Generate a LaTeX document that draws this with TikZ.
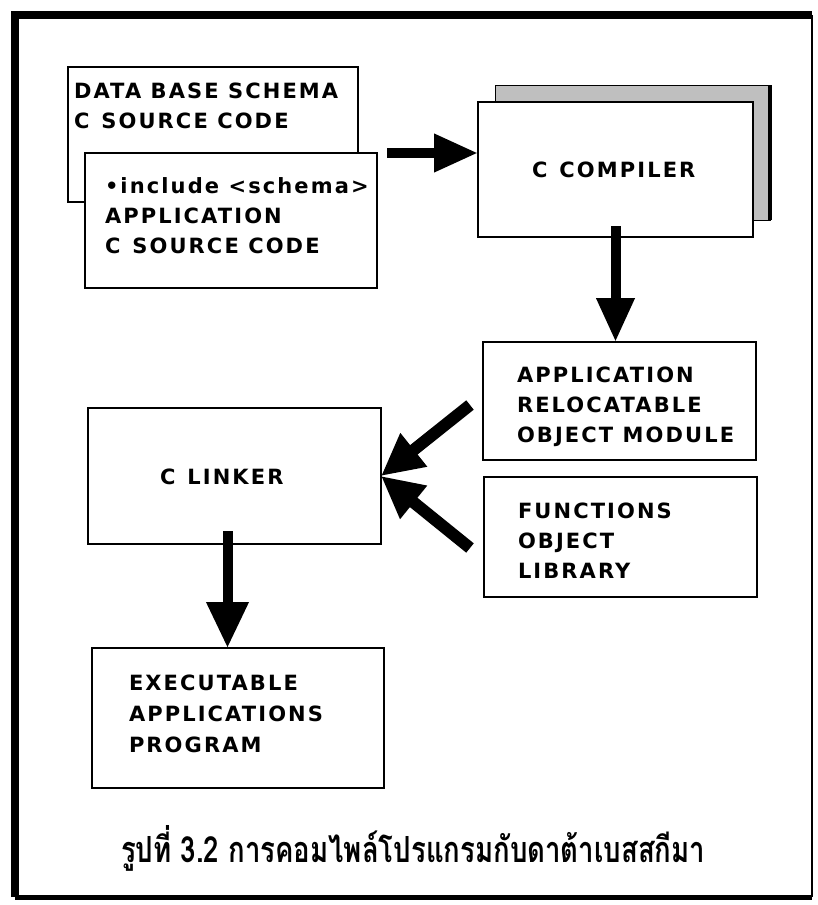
\documentclass[tikz,border=0pt]{standalone}
\usepackage{fontspec}
\usepackage{graphicx}
\setmainfont{DejaVu Sans}
\newfontfamily\boxfont[LetterSpace=10]{DejaVu Sans Bold}
\newfontfamily\thaifont[Script=Thai]{Loma}
\usetikzlibrary{arrows.meta}
\newcommand\gapC{\hspace{12pt}}
\tikzset{
  box/.style={draw, line width=1.6pt, fill=white, rectangle, inner sep=0pt, outer sep=0pt, anchor=north west},
  lbl/.style={inner sep=0pt, outer sep=0pt, anchor=base west, font=\boxfont\fontsize{21}{30}\selectfont},
  bigarrow/.style={line width=10pt, -{Triangle[length=44pt,width=36pt]}},
  shadebox/.style={draw, line width=1pt, fill=black!25, rectangle, inner sep=0pt, outer sep=0pt, anchor=north west}
}
\begin{document}
\begin{tikzpicture}[x=1pt,y=-1pt]
\useasboundingbox (0,0) rectangle (817,905);
\fill[white] (0,0) rectangle (817,905);

% outer frame
\draw[line width=8pt] (15,897) -- (15,15) -- (812,15);
\draw[line width=2.5pt] (812,15) -- (812,897);
\draw[line width=5pt] (15,897) -- (812,897);

% source files
\node[box, minimum width=290pt, minimum height=135pt] (schema) at (68,67) {};
\node[lbl] (schemaA) at (74,98) {DATA BASE SCHEMA};
\node[lbl] (schemaB) at (74,128) {C\gapC SOURCE CODE};

\node[box, minimum width=292pt, minimum height=135pt] (appsrc) at (85,153) {};
\node[lbl] (appsrcA) at (105,193) {•include <schema>};
\node[lbl] (appsrcB) at (105,223) {APPLICATION};
\node[lbl] (appsrcC) at (105,253) {C\gapC SOURCE CODE};

% compiler with its shaded copy behind
\node[shadebox, minimum width=275pt, minimum height=135pt] (compsh) at (495,85) {};
\draw[line width=4pt] (compsh.north east) -- (compsh.south east);
\node[box, minimum width=275pt, minimum height=135pt] (comp) at (478,102) {};
\node[lbl] (compA) at (532,177) {C\gapC COMPILER};

% object modules
\node[box, minimum width=273pt, minimum height=118pt] (reloc) at (483,342) {};
\node[lbl] (relocA) at (517,382) {APPLICATION};
\node[lbl] (relocB) at (517,412) {RELOCATABLE};
\node[lbl] (relocC) at (517,442) {OBJECT MODULE};

\node[box, minimum width=273pt, minimum height=120pt] (funcs) at (484,477) {};
\node[lbl] (funcsA) at (518,518) {FUNCTIONS};
\node[lbl] (funcsB) at (518,548) {OBJECT};
\node[lbl] (funcsC) at (518,578) {LIBRARY};

% linker
\node[box, minimum width=293pt, minimum height=136pt] (link) at (88,408) {};
\node[lbl] (linkA) at (160,484) {C\gapC LINKER};

% executable
\node[box, minimum width=292pt, minimum height=140pt] (exe) at (92,648) {};
\node[lbl] (exeA) at (129,690) {EXECUTABLE};
\node[lbl] (exeB) at (129,721) {APPLICATIONS};
\node[lbl] (exeC) at (129,752) {PROGRAM};

% connectors
\coordinate (srcout) at ([xshift=10pt]appsrc.north east);
\draw[bigarrow] (srcout) -- (comp.west |- srcout);

\coordinate (compout) at ([yshift=11pt]comp.south);
\draw[bigarrow] (compout) -- (compout |- reloc.north);

\coordinate (relocout) at (470,405);
\coordinate (funcsout) at (470,548);
\draw[bigarrow, line width=12pt, -{Triangle[length=42pt,width=40pt]}] (relocout) -- (link.east);
\draw[bigarrow, line width=12pt, -{Triangle[length=42pt,width=40pt]}] (funcsout) -- (link.east);

\coordinate (linkout) at ([shift={(-7pt,13pt)}]link.south);
\draw[bigarrow, -{Triangle[length=46pt,width=40pt]}] (linkout) -- (linkout |- exe.north);

% caption, set in a condensed width
\node[inner sep=0pt, anchor=base west] (caption) at (121,862)
  {\resizebox{584pt}{\height}{\thaifont\bfseries\fontsize{36}{40}\selectfont รูปที่ 3.2 การคอมไพล์โปรแกรมกับดาต้าเบสสกีมา}};
\end{tikzpicture}
\end{document}
